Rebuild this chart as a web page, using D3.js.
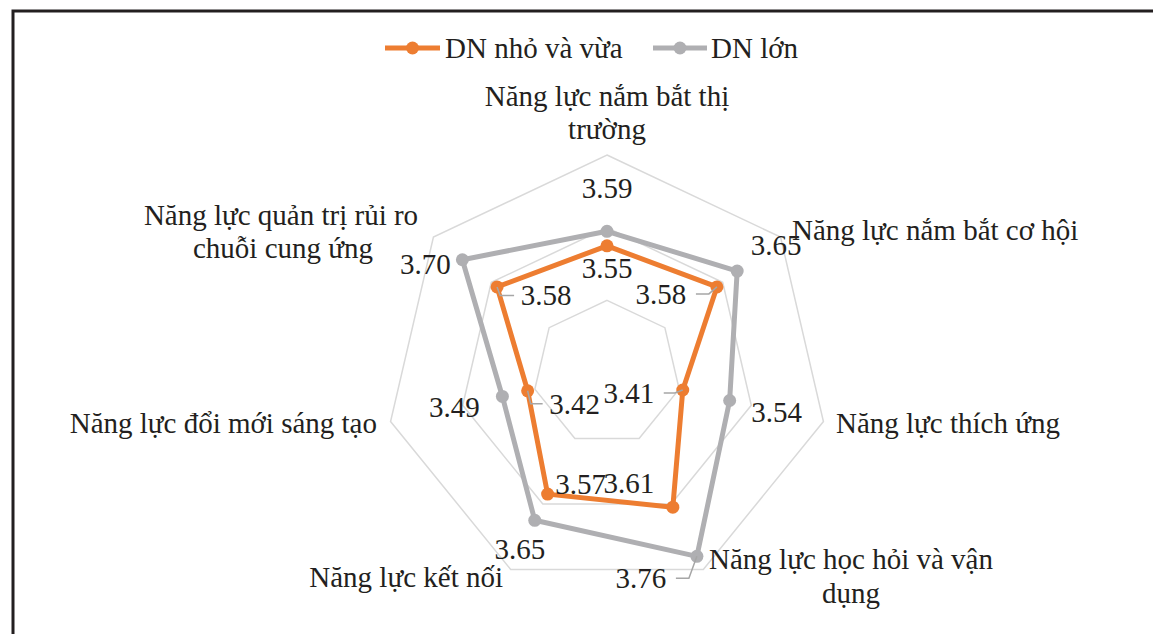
<!DOCTYPE html>
<html>
<head>
<meta charset="utf-8">
<script src="https://cdn.jsdelivr.net/npm/d3@7"></script>
<style>
  html, body { margin: 0; padding: 0; background: #ffffff; }
  svg { display: block; }
  text { font-family: "Liberation Serif", "Times New Roman", serif; fill: #231f20; }
</style>
</head>
<body>
<svg id="chart" width="1153" height="634"></svg>
<script>
// ---- data ----
const categories = [
  "Năng lực nắm bắt thị trường",
  "Năng lực nắm bắt cơ hội",
  "Năng lực thích ứng",
  "Năng lực học hỏi và vận dụng",
  "Năng lực kết nối",
  "Năng lực đổi mới sáng tạo",
  "Năng lực quản trị rủi ro chuỗi cung ứng"
];
const seriesNames = ["DN nhỏ và vừa", "DN lớn"];
const smeValues = [3.55, 3.58, 3.41, 3.61, 3.57, 3.42, 3.58];
const largeValues = [3.59, 3.65, 3.54, 3.76, 3.65, 3.49, 3.70];
const radialTicks = [3.2, 3.4, 3.6, 3.8];

// ---- layout / style ----
const W = 1153, H = 634;
const cx = 607, cy = 373, rx = 222, ry = 218;
const colors = ["#ED7D31", "#AFAFB2"];
const fontSize = 29;

const svg = d3.select("#chart");

// frame (only left and top edges visible)
svg.append("path")
  .attr("d", `M13,${H + 5} L13,11 L${W + 5},11`)
  .attr("fill", "none").attr("stroke", "#231f20").attr("stroke-width", 3);

const n = categories.length;
const angle = d3.scaleLinear().domain([0, n]).range([0, 2 * Math.PI]);
const rScale = d3.scaleLinear().domain([radialTicks[0], radialTicks[radialTicks.length - 1]]).range([0, 1]);

function pos(i, v) {
  const a = angle(i), f = rScale(v);
  return [cx + Math.sin(a) * f * rx, cy - Math.cos(a) * f * ry];
}

// gridlines
const gridG = svg.append("g");
radialTicks.slice(1).forEach(t => {
  const pts = d3.range(n).map(i => pos(i, t));
  gridG.append("path")
    .attr("d", d3.line()(pts) + "Z")
    .attr("fill", "none").attr("stroke", "#d9d9d9").attr("stroke-width", 1.5);
});

// series
const allSeries = [smeValues, largeValues];
const line = d3.line();
allSeries.forEach((vals, s) => {
  const pts = vals.map((v, i) => pos(i, v));
  const g = svg.append("g");
  g.append("path").attr("d", line(pts) + "Z")
    .attr("fill", "none").attr("stroke", colors[s]).attr("stroke-width", 5)
    .attr("stroke-linejoin", "round");
  g.selectAll("circle").data(pts).join("circle")
    .attr("cx", d => d[0]).attr("cy", d => d[1]).attr("r", 6.5)
    .attr("fill", colors[s]);
});

// data label offsets (relative to point): [dx, dy, leader]
const labelOffsets = [
  [[0, 22.5, null], [-56, 7, "h"], [-54, 3, "h"], [-44, -24, null], [33, -10, null], [47, 13, "v"], [49, 8.5, "v"]],
  [[0, -43, null], [39, -26, null], [47, 12, null], [-56, 22, "h"], [-15, 29, null], [-48, 11, null], [-37, 4, null]]
];

const labelG = svg.append("g");
allSeries.forEach((vals, s) => {
  vals.forEach((v, i) => {
    const [px, py] = pos(i, v);
    const [dx, dy, leader] = labelOffsets[s][i];
    const lx = px + dx, ly = py + dy;
    const txt = v.toFixed(2);
    labelG.append("text")
      .attr("x", lx).attr("y", ly + fontSize * 0.34)
      .attr("text-anchor", "middle")
      .attr("font-size", fontSize)
      .text(txt);
    const half = 26;
    if (leader === "h") {
      const x0 = lx + half + 9;
      labelG.append("path")
        .attr("d", `M${x0},${ly} L${Math.max(x0, px - 8)},${ly} L${px},${py}`)
        .attr("fill", "none").attr("stroke", "#a6a6a6").attr("stroke-width", 1.5);
    } else if (leader === "v") {
      const x1 = lx - half - 6;
      labelG.append("path")
        .attr("d", `M${px},${py} L${px + 3},${ly} L${x1},${ly}`)
        .attr("fill", "none").attr("stroke", "#a6a6a6").attr("stroke-width", 1.5);
    }
  });
});

// category labels
const catLayout = [
  { lines: ["Năng lực nắm bắt thị", "trường"], x: [607, 607], y: [106, 139], anchor: "middle" },
  { lines: ["Năng lực nắm bắt cơ hội"], x: [792], y: [240], anchor: "start" },
  { lines: ["Năng lực thích ứng"], x: [836], y: [433], anchor: "start" },
  { lines: ["Năng lực học hỏi và vận", "dụng"], x: [851, 851], y: [569, 603], anchor: "middle" },
  { lines: ["Năng lực kết nối"], x: [503], y: [587], anchor: "end" },
  { lines: ["Năng lực đổi mới sáng tạo"], x: [377], y: [433], anchor: "end" },
  { lines: ["Năng lực quản trị rủi ro", "chuỗi cung ứng"], x: [281, 283], y: [225, 258], anchor: "middle" }
];
const catG = svg.append("g");
catLayout.forEach(c => {
  c.lines.forEach((ln, j) => {
    catG.append("text")
      .attr("x", c.x[j]).attr("y", c.y[j])
      .attr("text-anchor", c.anchor)
      .attr("font-size", fontSize)
      .text(ln);
  });
});

// legend
const legendItems = [
  { x0: 385, x1: 440, tx: 445 },
  { x0: 653, x1: 707, tx: 711 }
];
const legG = svg.append("g");
seriesNames.forEach((name, s) => {
  const L = legendItems[s];
  legG.append("line").attr("x1", L.x0).attr("x2", L.x1).attr("y1", 48).attr("y2", 48)
    .attr("stroke", colors[s]).attr("stroke-width", 5);
  legG.append("circle").attr("cx", (L.x0 + L.x1) / 2).attr("cy", 48).attr("r", 6.5).attr("fill", colors[s]);
  legG.append("text").attr("x", L.tx).attr("y", 58).attr("font-size", fontSize).text(name);
});
</script>
</body>
</html>
